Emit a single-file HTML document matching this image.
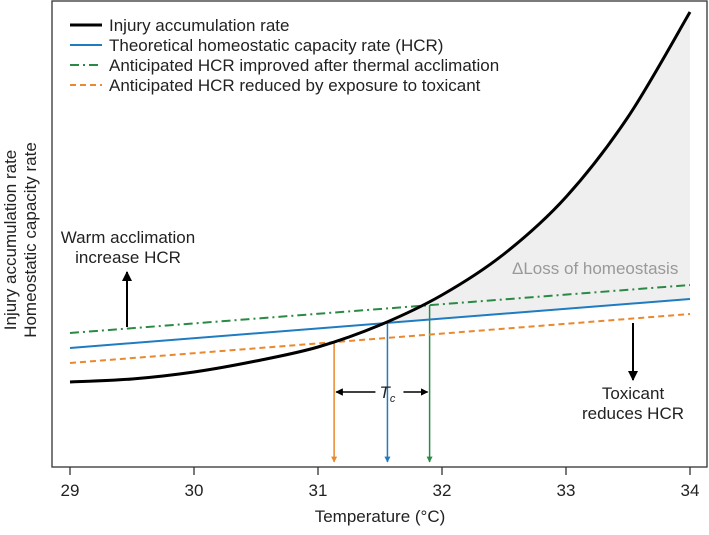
<!DOCTYPE html>
<html><head><meta charset="utf-8"><style>
body{margin:0;background:#fff}
svg text{font-family:"Liberation Sans",Arial,sans-serif;fill:#222}
</style></head><body>
<svg id="svg" width="709" height="530" viewBox="0 0 709 530">
<defs>
<marker id="ah" viewBox="0 0 10 10" refX="9" refY="5" markerWidth="5" markerHeight="5" orient="auto"><path d="M0,0L10,5L0,10z" fill="#000"/></marker>
<marker id="ao" viewBox="0 0 10 10" refX="9" refY="5" markerWidth="4" markerHeight="4" orient="auto"><path d="M0,0L10,5L0,10z" fill="#e8892f"/></marker>
<marker id="ab" viewBox="0 0 10 10" refX="9" refY="5" markerWidth="4" markerHeight="4" orient="auto"><path d="M0,0L10,5L0,10z" fill="#1f7cc0"/></marker>
<marker id="ag" viewBox="0 0 10 10" refX="9" refY="5" markerWidth="4" markerHeight="4" orient="auto"><path d="M0,0L10,5L0,10z" fill="#2a8a45"/></marker>
</defs>
<g id="plot"></g>
<rect x="52" y="1" width="655" height="466" fill="none" stroke="#333" stroke-width="1.3"/>
<g id="ticks"></g>
<text x="380" y="522" font-size="17" text-anchor="middle">Temperature (°C)</text>
<g transform="translate(16,240) rotate(-90)">
<text x="0" y="0" font-size="17" text-anchor="middle">Injury accumulation rate</text>
<text x="0" y="20" font-size="17" text-anchor="middle">Homeostatic capacity rate</text>
</g>
<g font-size="17">
<line x1="70" y1="25" x2="102" y2="25" stroke="#000" stroke-width="3"/><text x="109" y="31">Injury accumulation rate</text>
<line x1="70" y1="45" x2="102" y2="45" stroke="#1f7cc0" stroke-width="2"/><text x="109" y="51">Theoretical homeostatic capacity rate (HCR)</text>
<line x1="70" y1="65" x2="102" y2="65" stroke="#2a8a45" stroke-width="2" stroke-dasharray="9,4,2,4"/><text x="109" y="71">Anticipated HCR improved after thermal acclimation</text>
<line x1="70" y1="85" x2="102" y2="85" stroke="#e8892f" stroke-width="2" stroke-dasharray="6,4"/><text x="109" y="91">Anticipated HCR reduced by exposure to toxicant</text>
</g>
<g>
<text x="128" y="243" font-size="17" text-anchor="middle">Warm acclimation</text>
<text x="128" y="263" font-size="17" text-anchor="middle">increase HCR</text>
<line x1="127" y1="327" x2="127" y2="272" stroke="#000" stroke-width="2" marker-end="url(#ah)"/>
</g>
<g>
<line x1="633" y1="323" x2="633" y2="380" stroke="#000" stroke-width="2" marker-end="url(#ah)"/>
<text x="633" y="399" font-size="17" text-anchor="middle">Toxicant</text>
<text x="633" y="419" font-size="17" text-anchor="middle">reduces HCR</text>
</g>
<text x="512" y="274" font-size="17" style="fill:#999">ΔLoss of homeostasis</text>
<g id="tc"></g>
</svg>
<script>
const temps=[29,29.5,30,30.5,31,31.5,32,32.5,33,33.5,34];
const injury=[85,88,95,106,120,142,172,213,270,350,455];
const hcrLine=[119,168];
const acclimLine=[134,182];
const toxLine=[104,153];
const tickLabels=[29,30,31,32,33,34];
const tcPoints=[31.13,31.56,31.9];
const X=t=>70+(t-29)*124;
const Y=v=>467-v;
const ns="http://www.w3.org/2000/svg";
function mk(tag,attrs,parent){const e=document.createElementNS(ns,tag);for(const k in attrs)e.setAttribute(k,attrs[k]);parent.appendChild(e);return e;}
function injAt(t){
 for(let i=0;i<temps.length-1;i++){if(t<=temps[i+1]){const f=(t-temps[i])/(temps[i+1]-temps[i]);return injury[i]+f*(injury[i+1]-injury[i]);}}return injury[injury.length-1];}
function curvePath(){const p=temps.map((t,i)=>[X(t),Y(injury[i])]);let d="M"+p[0][0]+","+p[0][1];
 for(let i=0;i<p.length-1;i++){const p0=p[i-1]||p[i],p1=p[i],p2=p[i+1],p3=p[i+2]||p2;
 d+=" C"+(p1[0]+(p2[0]-p0[0])/6)+","+(p1[1]+(p2[1]-p0[1])/6)+" "+(p2[0]-(p3[0]-p1[0])/6)+","+(p2[1]-(p3[1]-p1[1])/6)+" "+p2[0]+","+p2[1];}return d;}
const lin=(a,t)=>a[0]+(a[1]-a[0])*(t-29)/5;
const plot=document.getElementById('plot');
let sd="";const t0=tcPoints[1];
for(let t=t0;t<=34.0001;t+=0.02)sd+=(sd?"L":"M")+X(t)+","+Y(injAt(t));
for(let t=34;t>=t0-0.0001;t-=0.02)sd+="L"+X(t)+","+Y(lin(hcrLine,t));
const sh=mk('path',{d:sd+"Z",fill:"#efefef"},plot);


const cols=["#e8892f","#1f7cc0","#2a8a45"],mks=["ao","ab","ag"],srcs=[toxLine,hcrLine,acclimLine];
tcPoints.forEach((t,i)=>{const l=mk('line',{x1:X(t),y1:Y(lin(srcs[i],t)),x2:X(t),y2:462,stroke:cols[i],"stroke-width":1.5,"marker-end":"url(#"+mks[i]+")"},plot);
 
 });
const lines=[[acclimLine,"#2a8a45","9,4,2,4","acclimated-hcr-line"],[hcrLine,"#1f7cc0","","hcr-line"],[toxLine,"#e8892f","6,4","toxicant-hcr-line"]];
lines.forEach(L=>{const e=mk('line',{x1:X(29),y1:Y(L[0][0]),x2:X(34),y2:Y(L[0][1]),stroke:L[1],"stroke-width":2,"stroke-dasharray":L[2]},plot);
 
 });
const c=mk('path',{d:curvePath(),fill:"none",stroke:"#000","stroke-width":3},plot);


const tg=document.getElementById('ticks');
tickLabels.forEach(v=>{const l=mk('line',{x1:X(v),y1:467,x2:X(v),y2:475,stroke:"#333","stroke-width":1.3},tg);
 
 
 const tx=mk('text',{x:X(v),y:496,"font-size":17,"text-anchor":"middle"},tg);tx.textContent=v;
 
 });
const tc=document.getElementById('tc');const mid=X(tcPoints[1]);
mk('line',{x1:mid-12,y1:392,x2:X(tcPoints[0])+2,y2:392,stroke:"#000","stroke-width":1.5,"marker-end":"url(#ah)"},tc);
mk('line',{x1:mid+16,y1:392,x2:X(tcPoints[2])-2,y2:392,stroke:"#000","stroke-width":1.5,"marker-end":"url(#ah)"},tc);
const tt=mk('text',{x:mid-8,y:398,"font-size":17,"font-style":"italic"},tc);
tt.textContent='T';
const sub=mk('tspan',{"font-size":11,dy:4},tt);sub.textContent='c';
</script>
</body></html>
